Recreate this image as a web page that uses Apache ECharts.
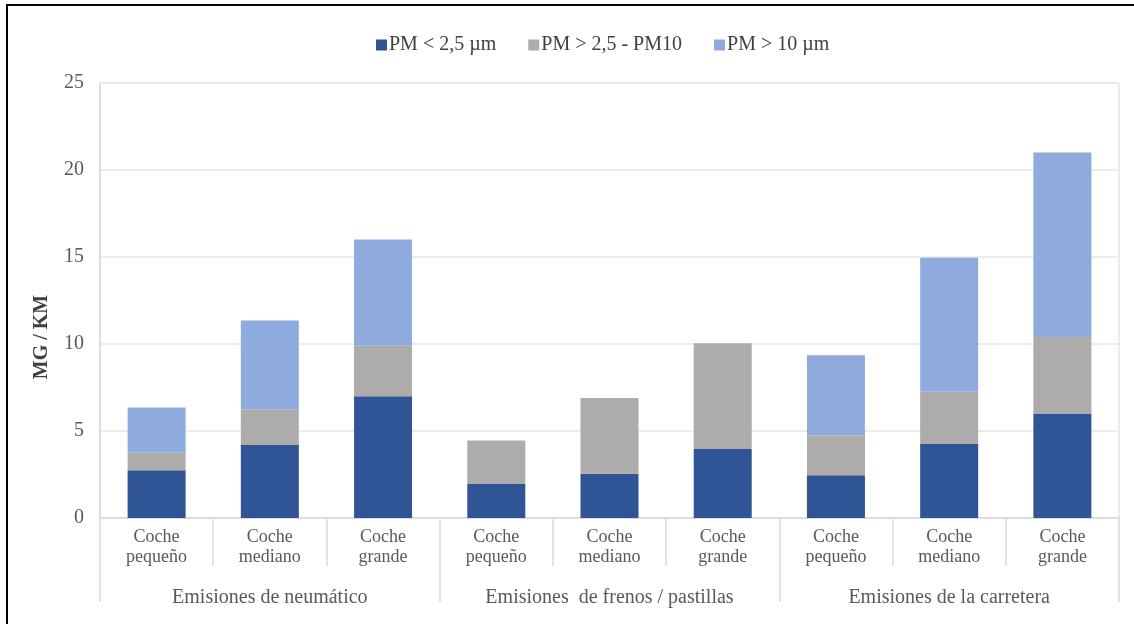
<!DOCTYPE html>
<html>
<head>
<meta charset="utf-8">
<script src="https://cdn.jsdelivr.net/npm/echarts@6/dist/echarts.min.js"></script>
<style>html,body{margin:0;padding:0;background:#fff;}#c{width:1134px;height:624px;}</style>
</head>
<body>
<div id="c"></div>
<script>
const categories = ['Coche\npequeño', 'Coche\nmediano', 'Coche\ngrande',
                    'Coche\npequeño', 'Coche\nmediano', 'Coche\ngrande',
                    'Coche\npequeño', 'Coche\nmediano', 'Coche\ngrande'];
const groups = ['Emisiones de neumático', 'Emisiones  de frenos / pastillas', 'Emisiones de la carretera'];
const seriesNames = ['PM < 2,5 µm', 'PM > 2,5 - PM10', 'PM > 10 µm'];
const pmFine = [2.75, 4.2, 7.0, 1.95, 2.55, 4.0, 2.45, 4.25, 6.0];
const pmCoarse = [1.0, 2.05, 2.9, 2.5, 4.35, 6.05, 2.3, 3.0, 4.4];
const pmLarge = [2.6, 5.1, 6.1, 0, 0, 0, 4.6, 7.7, 10.6];
const yTicks = [0, 5, 10, 15, 20, 25];

const font = 'Liberation Serif';
const txt = '#595959';
const lineC = '#d9d9d9';
const colors = ['#2f5597', '#aeabab', '#8faadc'];

const chart = echarts.init(document.getElementById('c'));
chart.setOption({
  animation: false,
  backgroundColor: '#fff',
  color: colors,
  textStyle: { fontFamily: font },
  legend: {
    top: 30, left: 371,
    itemWidth: 11, itemHeight: 11, itemGap: 32,
    icon: 'rect',
    textStyle: { fontFamily: font, fontSize: 20, color: '#404040', padding: [0, 0, 0, -3] },
    data: seriesNames
  },
  grid: { left: 100, right: 15, top: 83, bottom: 106, show: true, borderColor: lineC, borderWidth: 1 },
  xAxis: [
    {
      type: 'category', data: categories, position: 'bottom',
      axisLine: { show: true, lineStyle: { color: lineC, width: 1.5 } },
      axisTick: { show: true, interval: 0, length: 48, lineStyle: { color: lineC, width: 1.5 } },
      axisLabel: { interval: 0, margin: 9, fontFamily: font, fontSize: 18, lineHeight: 20, color: txt }
    },
    {
      type: 'category', data: groups, position: 'bottom',
      axisLine: { show: false },
      axisTick: { show: true, interval: 0, length: 84, lineStyle: { color: lineC, width: 1.5 } },
      axisLabel: { interval: 0, margin: 70, fontFamily: font, fontSize: 20, color: txt }
    }
  ],
  yAxis: {
    type: 'value', min: yTicks[0], max: yTicks[yTicks.length - 1], interval: 5,
    axisLine: { show: true, lineStyle: { color: lineC, width: 1.5 } },
    axisTick: { show: false },
    splitLine: { lineStyle: { color: '#e6e6e6', width: 1.5 } },
    axisLabel: { margin: 16, fontFamily: font, fontSize: 20, color: txt }
  },
  graphic: [
    { type: 'rect', shape: { x: 7, y: 5, width: 1150, height: 650 }, style: { fill: 'none', stroke: '#000', lineWidth: 2 }, silent: true },
    { type: 'text', x: 42, y: 337, rotation: Math.PI / 2,
      style: { text: 'MG / KM', font: 'bold 20px "Liberation Serif"', fill: '#404040', align: 'center', verticalAlign: 'middle' } }
  ],
  series: [
    { name: seriesNames[0], type: 'bar', stack: 's', data: pmFine, barWidth: 58, xAxisIndex: 0 },
    { name: seriesNames[1], type: 'bar', stack: 's', data: pmCoarse, barWidth: 58, xAxisIndex: 0 },
    { name: seriesNames[2], type: 'bar', stack: 's', data: pmLarge, barWidth: 58, xAxisIndex: 0 }
  ]
});
</script>
</body>
</html>
